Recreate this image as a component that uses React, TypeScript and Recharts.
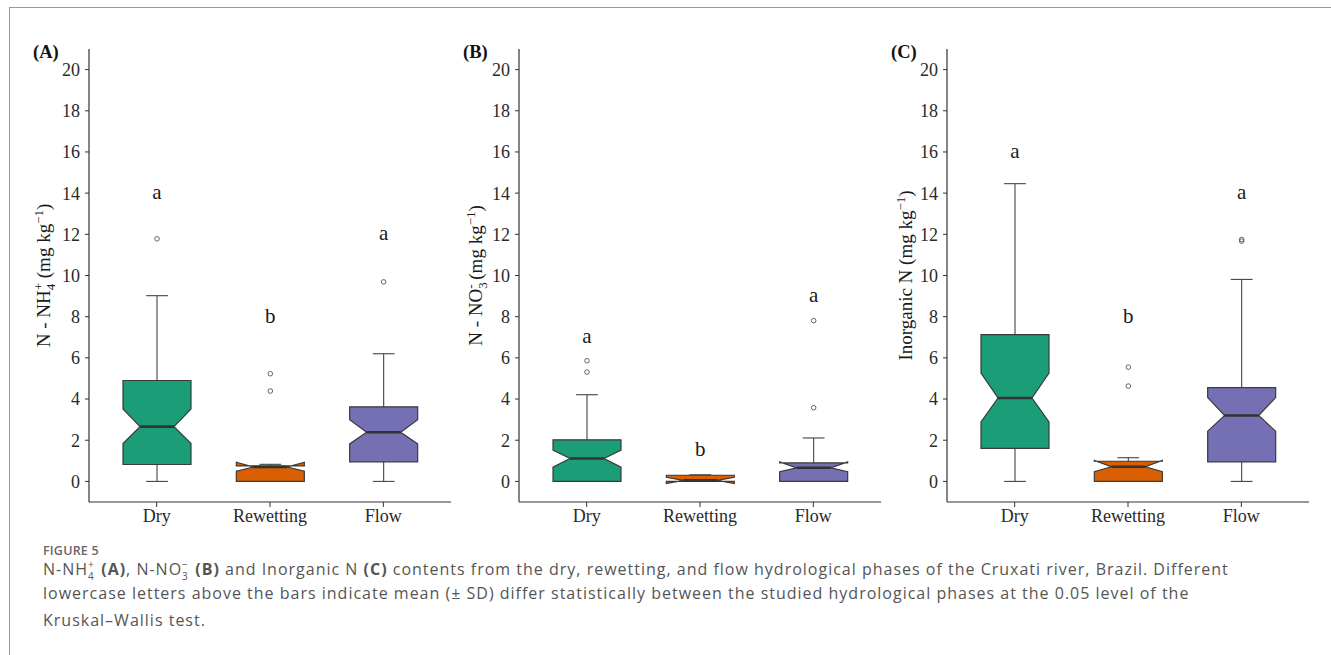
import React from 'react';
import { ComposedChart, Bar, XAxis, YAxis } from 'recharts';

const phases = ['Dry', 'Rewetting', 'Flow'];
const phaseColors = ['#1B9E77', '#D95F02', '#7570B3'];
const yTicks = [0, 2, 4, 6, 8, 10, 12, 14, 16, 18, 20];

// (A) N-NH4+
const nh4WhiskerLow = [0, 0, 0];
const nh4Q1 = [0.82, 0, 0.95];
const nh4NotchLow = [1.84, 0.5, 1.82];
const nh4Median = [2.66, 0.7, 2.39];
const nh4NotchHigh = [3.52, 0.93, 3.0];
const nh4Q3 = [4.9, 0.75, 3.62];
const nh4WhiskerHigh = [9.02, 0.83, 6.2];
const nh4Outliers = [[11.78], [5.23, 4.39], [9.69]];
const nh4Letters = ['a', 'b', 'a'];
const nh4LetterY = [14, 8, 12];

// (B) N-NO3-
const no3WhiskerLow = [0, 0, 0];
const no3Q1 = [0, 0, 0];
const no3NotchLow = [0.69, -0.1, 0.47];
const no3Median = [1.11, 0.05, 0.66];
const no3NotchHigh = [1.52, 0.2, 0.95];
const no3Q3 = [2.02, 0.3, 0.9];
const no3WhiskerHigh = [4.21, 0.32, 2.11];
const no3Outliers = [[5.86, 5.31], [], [3.58, 7.81]];
const no3Letters = ['a', 'b', 'a'];
const no3LetterY = [7, 1.5, 9];

// (C) inorganic N
const inWhiskerLow = [0, 0, 0];
const inQ1 = [1.6, 0, 0.95];
const inNotchLow = [2.89, 0.47, 2.44];
const inMedian = [4.05, 0.71, 3.2];
const inNotchHigh = [5.26, 1.02, 4.07];
const inQ3 = [7.13, 0.98, 4.55];
const inWhiskerHigh = [14.46, 1.15, 9.81];
const inOutliers = [[], [5.55, 4.63], [11.67, 11.75]];
const inLetters = ['a', 'b', 'a'];
const inLetterY = [16, 8, 14];

const SERIF = '"Liberation Serif", "Times New Roman", serif';
const PLOT_TOP = 49;
const AXIS_W = 80;

function buildRows(s: any) {
  return phases.map((phase, i) => ({
    phase,
    color: phaseColors[i],
    range: [s.wLow[i], s.letterY[i]],
    wLow: s.wLow[i],
    q1: s.q1[i],
    nl: s.nl[i],
    med: s.med[i],
    nh: s.nh[i],
    q3: s.q3[i],
    wHigh: s.wHigh[i],
    out: s.out[i],
    letter: s.letters[i],
    letterY: s.letterY[i],
  }));
}

function BoxShape(props: any) {
  const { x, y, width, height, payload } = props;
  if (!payload) return null;
  const [lo, hi] = payload.range;
  const py = (v: number) => y + ((hi - v) / (hi - lo)) * height;
  const cx = x + width / 2;
  const x0 = x;
  const x1 = x + width;
  const nw = width * 0.25;
  const cap = width * 0.16;
  const pts = [
    [x0, py(payload.q3)], [x0, py(payload.nh)], [x0 + nw, py(payload.med)], [x0, py(payload.nl)], [x0, py(payload.q1)],
    [x1, py(payload.q1)], [x1, py(payload.nl)], [x1 - nw, py(payload.med)], [x1, py(payload.nh)], [x1, py(payload.q3)],
  ];
  return (
    <g>
      <line x1={cx - cap} x2={cx + cap} y1={py(payload.wHigh)} y2={py(payload.wHigh)} stroke="#444" strokeWidth={1.1} />
      <line x1={cx - cap} x2={cx + cap} y1={py(payload.wLow)} y2={py(payload.wLow)} stroke="#444" strokeWidth={1.1} />
      <line x1={cx} x2={cx} y1={py(payload.q3)} y2={py(payload.wHigh)} stroke="#444" strokeWidth={1.1} />
      <line x1={cx} x2={cx} y1={py(payload.q1)} y2={py(payload.wLow)} stroke="#444" strokeWidth={1.1} />
      <polygon points={pts.map((p) => p.join(',')).join(' ')} fill={payload.color} stroke="#3a3a3a" strokeWidth={1.2} />
      <line x1={x0 + nw} x2={x1 - nw} y1={py(payload.med)} y2={py(payload.med)} stroke="#333" strokeWidth={2.6} />
      {payload.out.map((v: number, k: number) => (
        <circle key={k} cx={cx} cy={py(v)} r={2.3} fill="none" stroke="#555" strokeWidth={0.9} />
      ))}
      <text x={cx} y={py(payload.letterY)} dy="0.28em" textAnchor="middle" fontFamily={SERIF} fontSize={21} fill="#1a1a1a">
        {payload.letter}
      </text>
    </g>
  );
}

function AxisTitle(props: any) {
  const vb = props.viewBox || {};
  const axisX = (vb.x ?? 0) + (vb.width ?? AXIS_W);
  const top = vb.y ?? PLOT_TOP;
  const h = vb.height ?? 453;
  const bx = axisX - props.offset;
  const cy = top + h / 2;
  return (
    <g>
      <text x={axisX - 56} y={top + 9} fontFamily={SERIF} fontWeight="bold" fontSize={18.5} fill="#111">
        {props.tag}
      </text>
      <text transform={`translate(${bx},${cy}) rotate(-90)`} textAnchor="middle" fontFamily={SERIF} fontSize={19} fill="#1a1a1a">
        {props.title}
      </text>
    </g>
  );
}

function Panel({ left, rows, tag, title, offset }: any) {
  return (
    <div style={{ position: 'absolute', left, top: 0 }}>
      <ComposedChart width={452} height={540} data={rows} margin={{ top: PLOT_TOP, right: 10, bottom: 8, left: 0 }}>
        <XAxis
          dataKey="phase"
          type="category"
          padding={{ left: 11, right: 11 }}
          height={30}
          tickSize={5}
          tickMargin={2}
          axisLine={{ stroke: '#333', strokeWidth: 1.2 }}
          tickLine={{ stroke: '#333', strokeWidth: 1 }}
          tick={{ fontFamily: SERIF, fontSize: 18, fill: '#2a2a2a' }}
        />
        <YAxis
          type="number"
          domain={[-1, 21]}
          ticks={yTicks}
          allowDataOverflow
          width={AXIS_W}
          tickSize={4}
          tickMargin={5}
          axisLine={{ stroke: '#333', strokeWidth: 1.2 }}
          tickLine={{ stroke: '#333', strokeWidth: 1 }}
          tick={{ fontFamily: SERIF, fontSize: 18, fill: '#2a2a2a' }}
          label={(p: any) => <AxisTitle {...p} tag={tag} title={title} offset={offset} />}
        />
        <Bar dataKey="range" barSize={68} shape={BoxShape} isAnimationActive={false} />
      </ComposedChart>
    </div>
  );
}

const nh4Rows = buildRows({ wLow: nh4WhiskerLow, q1: nh4Q1, nl: nh4NotchLow, med: nh4Median, nh: nh4NotchHigh, q3: nh4Q3, wHigh: nh4WhiskerHigh, out: nh4Outliers, letters: nh4Letters, letterY: nh4LetterY });
const no3Rows = buildRows({ wLow: no3WhiskerLow, q1: no3Q1, nl: no3NotchLow, med: no3Median, nh: no3NotchHigh, q3: no3Q3, wHigh: no3WhiskerHigh, out: no3Outliers, letters: no3Letters, letterY: no3LetterY });
const inRows = buildRows({ wLow: inWhiskerLow, q1: inQ1, nl: inNotchLow, med: inMedian, nh: inNotchHigh, q3: inQ3, wHigh: inWhiskerHigh, out: inOutliers, letters: inLetters, letterY: inLetterY });

const nh4Title = (
  <>
    <tspan>N - NH</tspan>
    <tspan fontSize={13} dy={5}>4</tspan>
    <tspan fontSize={13} dx={-6.5} dy={-12}>+</tspan>
    <tspan dy={7}> (mg kg</tspan>
    <tspan fontSize={13} dy={-7}>−1</tspan>
    <tspan dy={7}>)</tspan>
  </>
);
const no3Title = (
  <>
    <tspan>N - NO</tspan>
    <tspan fontSize={13} dy={5}>3</tspan>
    <tspan fontSize={13} dx={-6.5} dy={-12}>-</tspan>
    <tspan dy={7}> (mg kg</tspan>
    <tspan fontSize={13} dy={-7}>−1</tspan>
    <tspan dy={7}>)</tspan>
  </>
);
const inTitle = (
  <>
    <tspan>Inorganic  N (mg kg</tspan>
    <tspan fontSize={13} dy={-7}>−1</tspan>
    <tspan dy={7}>)</tspan>
  </>
);

// stacked super/subscript for the caption (e.g. NH4+)
function SubSup({ sub, sup }: { sub: string; sup: string }) {
  const small: React.CSSProperties = { position: 'absolute', left: 0, fontSize: 10, lineHeight: '10px', letterSpacing: 0 };
  return (
    <span style={{ position: 'relative', display: 'inline-block', width: 8, height: 16, verticalAlign: 'baseline' }}>
      <span style={{ ...small, top: 0 }}>{sup}</span>
      <span style={{ ...small, top: 12.5 }}>{sub}</span>
    </span>
  );
}

export default function App() {
  const cap: React.CSSProperties = {
    position: 'absolute',
    left: 43,
    whiteSpace: 'nowrap',
    fontFamily: '"Open Sans", sans-serif',
    fontSize: 16,
    letterSpacing: '1px',
    color: '#555',
    lineHeight: '16px',
  };
  return (
    <div style={{ position: 'absolute', left: 0, top: 0, width: 1331, height: 655, background: '#fff', overflow: 'hidden' }}>
      <div style={{ position: 'absolute', left: 9, top: 7, width: 1400, height: 700, borderTop: '1.6px solid #9a9a9a', borderLeft: '1.6px solid #9a9a9a' }} />
      <Panel left={9} rows={nh4Rows} tag="(A)" title={nh4Title} offset={39} />
      <Panel left={439} rows={no3Rows} tag="(B)" title={no3Title} offset={37} />
      <Panel left={867} rows={inRows} tag="(C)" title={inTitle} offset={35} />
      <div style={{ ...cap, top: 546.5, fontSize: 12.5, letterSpacing: '0.2px', fontWeight: 600, color: '#666', lineHeight: '8px' }}>FIGURE 5</div>
      <div style={{ ...cap, top: 558.8 }}>
        N-NH<SubSup sub="4" sup="+" /> <b>(A)</b>, N-NO<SubSup sub="3" sup="−" /> <b>(B)</b> and Inorganic N <b>(C)</b> contents from the dry, rewetting, and flow hydrological phases of the Cruxati river, Brazil. Different
      </div>
      <div style={{ ...cap, top: 585.3 }}>
        lowercase letters above the bars indicate mean (± SD) differ statistically between the studied hydrological phases at the 0.05 level of the
      </div>
      <div style={{ ...cap, top: 611.8 }}>Kruskal–Wallis test.</div>
    </div>
  );
}
